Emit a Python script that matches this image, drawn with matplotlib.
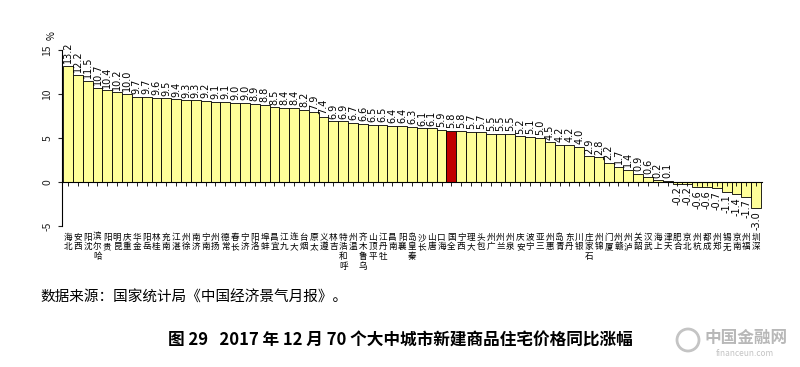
import numpy as np
import matplotlib.pyplot as plt
from matplotlib.patches import Ellipse

plt.rcParams['font.family'] = ['Noto Sans CJK SC', 'DejaVu Sans']

# 2017-12 70 cities, new home price YoY (%)
cities = ['北海', '西安', '沈阳', '哈尔滨', '贵阳', '昆明', '重庆', '金华', '岳阳', '桂林',
          '南充', '湛江', '徐州', '济南', '南宁', '扬州', '常德', '长春', '济宁', '洛阳',
          '蚌埠', '宜昌', '九江', '大连', '烟台', '太原', '遵义', '吉林', '呼和浩特', '温州',
          '乌鲁木齐', '平顶山', '牡丹江', '南昌', '襄阳', '秦皇岛', '长沙', '唐山', '海口', '全国',
          '西宁', '大理', '包头', '广州', '兰州', '泉州', '安庆', '宁波', '三亚', '惠州',
          '青岛', '丹东', '银川', '石家庄', '锦州', '厦门', '赣州', '泸州', '韶关', '武汉',
          '上海', '天津', '合肥', '北京', '杭州', '成都', '郑州', '无锡', '南京', '福州',
          '深圳']
values = [13.2, 12.2, 11.5, 10.7, 10.4, 10.2, 10.0, 9.7, 9.7, 9.6,
          9.5, 9.4, 9.3, 9.3, 9.2, 9.1, 9.1, 9.0, 9.0, 8.9,
          8.8, 8.5, 8.4, 8.4, 8.2, 7.9, 7.4, 6.9, 6.9, 6.7,
          6.6, 6.5, 6.5, 6.4, 6.4, 6.3, 6.1, 6.1, 5.9, 5.8,
          5.8, 5.7, 5.7, 5.5, 5.5, 5.5, 5.2, 5.1, 5.0, 4.5,
          4.2, 4.2, 4.0, 2.9, 2.8, 2.2, 1.7, 1.4, 0.9, 0.6,
          0.2, 0.1, -0.2, -0.2, -0.6, -0.6, -0.7, -1.1, -1.4, -1.7,
          -3.0]
highlight = '全国'
yticks = [-5, 0, 5, 10, 15]

bar_color = '#FFFF99'
hl_color = '#C00000'

fig = plt.figure(figsize=(8, 3.67), dpi=100)
ax = fig.add_axes([0.0775, 0.3842, 0.8744, 0.5155])

x = np.arange(len(values))
colors = [hl_color if c == highlight else bar_color for c in cities]
ax.bar(x, values, width=1.0, color=colors, edgecolor='black', linewidth=0.6)
ax.set_xlim(-0.61, len(values) - 0.45)
ax.set_ylim(-5, 16.5)

ax.spines['top'].set_visible(False)
ax.spines['right'].set_visible(False)
ax.spines['left'].set_bounds(-5, 15)
ax.spines['left'].set_linewidth(0.8)
ax.spines['bottom'].set_position(('data', 0))
ax.spines['bottom'].set_linewidth(0.8)

ax.set_yticks(yticks)
ax.set_yticklabels([str(t) for t in yticks])
for lab in ax.get_yticklabels():
    lab.set_rotation(90)
    lab.set_va('center')
ax.tick_params(axis='y', length=3, labelsize=7.5, pad=4, colors='#222222')
ax.set_xticks(x)
ax.set_xticklabels([])
ax.tick_params(axis='x', length=3, width=0.6)

# value labels
for i, v in enumerate(values):
    if v >= 0:
        ax.text(i, v + 0.3, f'{v:.1f}', rotation=90, ha='center', va='bottom',
                fontsize=7, family='DejaVu Sans', clip_on=False)
    else:
        ax.text(i, v - 0.3, f'{v:.1f}', rotation=90, ha='center', va='top',
                fontsize=7, family='DejaVu Sans', clip_on=False)

# city names, stacked vertically, read bottom to top
for i, name in enumerate(cities):
    ax.text(i, -5.75, '\n'.join(reversed(name)), ha='center', va='top',
            fontsize=6.2, linespacing=1.1, clip_on=False)

fig.text(52 / 800, 1 - 36 / 367, '%', rotation=90, ha='center', va='center', fontsize=7)

fig.text(40 / 800, 1 - 298 / 367, '数据来源：国家统计局《中国经济景气月报》。',
         ha='left', va='center', fontsize=10.5)
fig.text(0.5, 1 - 341 / 367, '图 29   2017 年 12 月 70 个大中城市新建商品住宅价格同比涨幅',
         ha='center', va='center', fontsize=12, weight='bold')

# watermark
fig.patches.append(Ellipse((688 / 800, 1 - 340 / 367), 22 / 800, 22 / 367,
                           transform=fig.transFigure, fill=False,
                           edgecolor='#c4c4c4', linewidth=2))
fig.text(704 / 800, 1 - 338 / 367, '中国金融网', color='#b8b8b8', fontsize=12, weight='bold',
         ha='left', va='center')
fig.text(716 / 800, 1 - 353 / 367, 'financeun.com', color='#c4c4c4', fontsize=6,
         ha='left', va='center')

fig.savefig('out.png', dpi=100)
